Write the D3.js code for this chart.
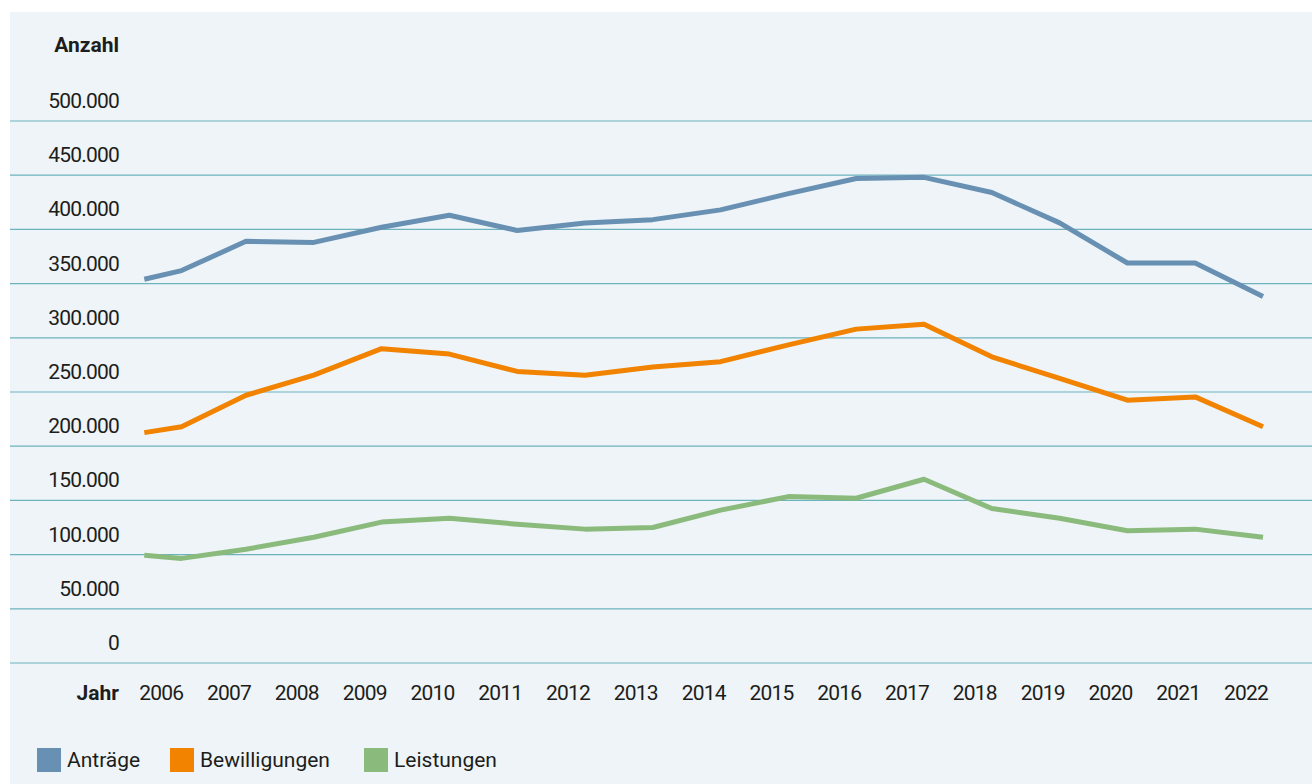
<!DOCTYPE html>
<html><head><meta charset="utf-8">
<script src="https://cdn.jsdelivr.net/npm/d3@7"></script>
<style>
html,body{margin:0;padding:0;background:#fff;}
svg{display:block;font-family:Roboto,"DejaVu Sans",sans-serif;}
</style></head>
<body>
<svg id="chart" width="1312" height="784"></svg>
<script>
// x positions of data points in years (first segment starts half a year early)
const pointYears = [2005.5, 2006.05, 2007, 2008, 2009, 2010, 2011, 2012, 2013, 2014, 2015, 2016, 2017, 2018, 2019, 2020, 2021, 2022];
const yearLabels = [2006, 2007, 2008, 2009, 2010, 2011, 2012, 2013, 2014, 2015, 2016, 2017, 2018, 2019, 2020, 2021, 2022];
const antraege      = [354000, 362000, 389000, 388000, 402000, 413000, 399000, 406000, 409000, 418000, 433000, 447000, 448000, 434000, 406000, 369000, 369000, 338000];
const bewilligungen = [212500, 218000, 247000, 265500, 290000, 285000, 269000, 265500, 273000, 278000, 293500, 308000, 312500, 282500, 262500, 242500, 245500, 218000];
const leistungen    = [99500, 96500, 105000, 116000, 130000, 133500, 128000, 123500, 125000, 141000, 153500, 152000, 169500, 142500, 133500, 122000, 123500, 116000];
const yTicks = [0, 50000, 100000, 150000, 200000, 250000, 300000, 350000, 400000, 450000, 500000];
const seriesNames = ["Anträge", "Bewilligungen", "Leistungen"];
const seriesColors = ["#6890b2", "#f18300", "#8aba7c"];

const series = [antraege, bewilligungen, leistungen];
const svg = d3.select("#chart");

// panel background
svg.append("rect").attr("x", 10).attr("y", 12).attr("width", 1302).attr("height", 772).attr("fill", "#eef4f7");

const x = d3.scaleLinear().domain([2007, 2022]).range([246, 1263]);
const y = d3.scaleLinear().domain([0, 500000]).range([663, 121]);
const fmt = v => d3.format(",")(v).replace(/,/g, ".");

// grid lines
svg.append("g").selectAll("line").data(yTicks).join("line")
  .attr("x1", 10).attr("x2", 1312)
  .attr("y1", d => y(d)).attr("y2", d => y(d))
  .attr("stroke", "#6cb3bd").attr("stroke-width", 1.2);

// y labels (sit above their grid line)
svg.append("g").selectAll("text").data(yTicks).join("text")
  .attr("x", 119).attr("y", d => y(d) - 13)
  .attr("text-anchor", "end").attr("font-size", 21).attr("letter-spacing", -0.8).attr("fill", "#1d1d1b")
  .text(d => fmt(d));

svg.append("text").attr("x", 119).attr("y", 52).attr("text-anchor", "end")
  .attr("font-size", 21).attr("font-weight", "bold").attr("fill", "#1d1d1b").text("Anzahl");

// x labels
svg.append("g").selectAll("text").data(yearLabels).join("text")
  .attr("x", d => x(d - 0.25)).attr("y", 700)
  .attr("text-anchor", "middle").attr("font-size", 21).attr("letter-spacing", -0.8).attr("fill", "#1d1d1b")
  .text(d => d);
svg.append("text").attr("x", 119).attr("y", 700).attr("text-anchor", "end")
  .attr("font-size", 21).attr("font-weight", "bold").attr("fill", "#1d1d1b").text("Jahr");

// lines
const line = d3.line().x((d, i) => x(pointYears[i])).y(d => y(d));
svg.append("g").selectAll("path").data(series).join("path")
  .attr("d", d => line(d))
  .attr("fill", "none")
  .attr("stroke", (d, i) => seriesColors[i])
  .attr("stroke-width", 5)
  .attr("stroke-linejoin", "round");

// legend
const legendX = [37, 170, 364];
const lg = svg.append("g").selectAll("g").data(seriesNames).join("g")
  .attr("transform", (d, i) => `translate(${legendX[i]},748)`);
lg.append("rect").attr("width", 24).attr("height", 24).attr("fill", (d, i) => seriesColors[i]);
lg.append("text").attr("x", 30).attr("y", 19).attr("font-size", 21).attr("fill", "#1d1d1b").text(d => d);
</script>
</body></html>
